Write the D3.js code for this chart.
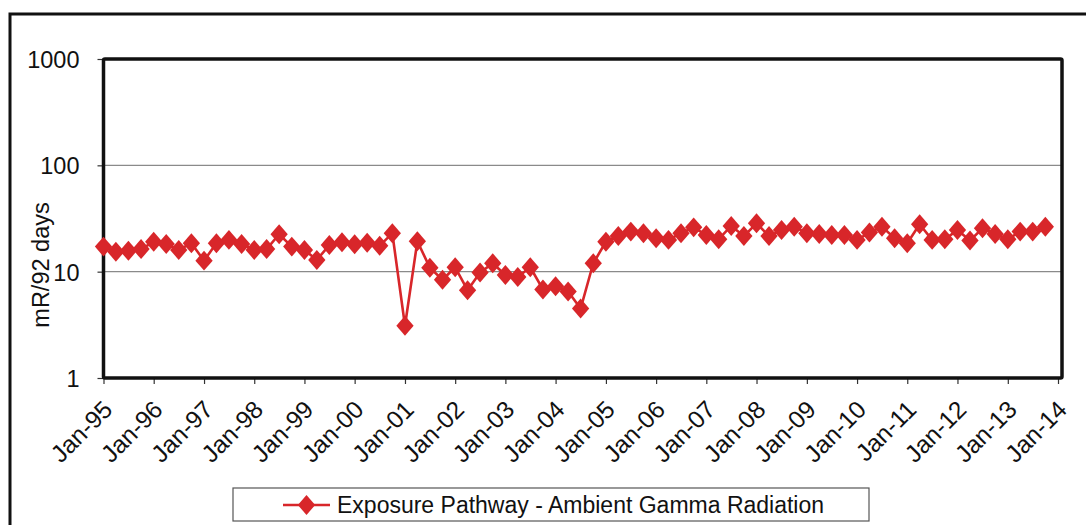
<!DOCTYPE html>
<html>
<head>
<meta charset="utf-8">
<script src="https://cdn.jsdelivr.net/npm/d3@7/dist/d3.min.js"></script>
<style>
  html, body { margin: 0; padding: 0; background: #fff; }
  svg { display: block; font-family: "Liberation Sans", Arial, sans-serif; }
</style>
</head>
<body>
<svg id="chart" width="1086" height="525"></svg>
<script>
// ---- data ----
const dates = [
  "1995-01","1995-04","1995-07","1995-10","1996-01","1996-04","1996-07","1996-10",
  "1997-01","1997-04","1997-07","1997-10","1998-01","1998-04","1998-07","1998-10",
  "1999-01","1999-04","1999-07","1999-10","2000-01","2000-04","2000-07","2000-10",
  "2001-01","2001-04","2001-07","2001-10","2002-01","2002-04","2002-07","2002-10",
  "2003-01","2003-04","2003-07","2003-10","2004-01","2004-04","2004-07","2004-10",
  "2005-01","2005-04","2005-07","2005-10","2006-01","2006-04","2006-07","2006-10",
  "2007-01","2007-04","2007-07","2007-10","2008-01","2008-04","2008-07","2008-10",
  "2009-01","2009-04","2009-07","2009-10","2010-01","2010-04","2010-07","2010-10",
  "2011-01","2011-04","2011-07","2011-10","2012-01","2012-04","2012-07","2012-10",
  "2013-01","2013-04","2013-07","2013-10"
];
const gammaValues = [
  17.2, 15.4, 15.7, 16.3, 19.1, 18.2, 16.0, 18.5,
  12.7, 18.5, 19.9, 18.2, 16.0, 16.3, 22.5, 17.2,
  16.0, 12.9, 17.8, 18.9, 18.1, 18.7, 17.5, 23.0,
  3.1, 19.3, 10.9, 8.4, 11.0, 6.7, 9.8, 12.0,
  9.3, 8.9, 11.0, 6.8, 7.3, 6.5, 4.5, 12.0,
  19.1, 21.6, 23.8, 23.0, 20.6, 19.9, 23.0, 26.1,
  22.1, 20.2, 26.9, 21.6, 28.5, 21.6, 24.6, 26.5,
  23.0, 22.6, 22.1, 22.1, 19.9, 23.3, 26.5, 20.6,
  18.5, 27.9, 19.9, 20.2, 24.6, 19.6, 25.6, 22.6,
  20.2, 23.8, 23.8, 26.5
];
const yTicks = [1, 10, 100, 1000];
const xTickLabels = ["Jan-95","Jan-96","Jan-97","Jan-98","Jan-99","Jan-00","Jan-01","Jan-02","Jan-03","Jan-04",
  "Jan-05","Jan-06","Jan-07","Jan-08","Jan-09","Jan-10","Jan-11","Jan-12","Jan-13","Jan-14"];
const seriesName = "Exposure Pathway - Ambient Gamma Radiation";
const yTitle = "mR/92 days";

// ---- layout ----
const svg = d3.select("#chart");
const plot = { left: 103.5, right: 1062, top: 59, bottom: 378 };
const red = "#d8262a";
const FONT = "'Liberation Sans', Arial, sans-serif";
const parse = d3.timeParse("%Y-%m");

const x = d3.scaleTime()
  .domain([parse("1995-01"), parse("2014-01")])
  .range([plot.left, 1058]);
const y = d3.scaleLog().domain([1, 1000]).range([plot.bottom, plot.top]);

// outer frame
svg.append("rect")
  .attr("x", 10).attr("y", 14).attr("width", 1200).attr("height", 700)
  .attr("fill", "none").attr("stroke", "#111").attr("stroke-width", 3);

// gridlines
svg.append("g").selectAll("line")
  .data(yTicks.filter(t => t > 1 && t < 1000))
  .join("line")
  .attr("x1", plot.left).attr("x2", plot.right)
  .attr("y1", d => y(d)).attr("y2", d => y(d))
  .attr("stroke", "#8a8a8a").attr("stroke-width", 1.2);

// y axis
const yAxis = d3.axisLeft(y).tickValues(yTicks).tickFormat(d3.format("d")).tickSize(6).tickPadding(18);
const gy = svg.append("g").attr("transform", `translate(${plot.left},0)`).call(yAxis);
gy.select(".domain").remove();
gy.selectAll(".tick line").attr("stroke", "#333").attr("stroke-width", 1.2);
gy.selectAll(".tick text").attr("font-size", 23.5).attr("fill", "#111")
  .attr("font-family", FONT).attr("dy", "0.36em");

// x axis
const xAxis = d3.axisBottom(x)
  .tickValues(xTickLabels.map((_, i) => d3.timeYear.offset(parse("1995-01"), i)))
  .tickFormat((d, i) => xTickLabels[i]).tickSize(6);
const gx = svg.append("g").attr("transform", `translate(0,${plot.bottom})`).call(xAxis);
gx.select(".domain").remove();
gx.selectAll(".tick line").attr("stroke", "#333").attr("stroke-width", 1.2);
gx.selectAll(".tick text")
  .attr("font-size", 24.5).attr("fill", "#111")
  .attr("font-family", FONT)
  .attr("text-anchor", "end")
  .attr("dy", null)
  .attr("y", 0)
  .attr("transform", "translate(10,33) rotate(-45)");

// plot border
svg.append("rect")
  .attr("x", plot.left).attr("y", plot.top)
  .attr("width", plot.right - plot.left).attr("height", plot.bottom - plot.top)
  .attr("fill", "none").attr("stroke", "#111").attr("stroke-width", 3.5)
  .attr("rx", 1.5);

// y title
svg.append("text")
  .attr("transform", `translate(49,265) rotate(-90)`)
  .attr("text-anchor", "middle")
  .attr("font-size", 23.5).attr("fill", "#111")
  .text(yTitle);

// series
const data = dates.map((d, i) => ({ date: parse(d), v: gammaValues[i] }));
const line = d3.line().x(d => x(d.date)).y(d => y(d.v));
svg.append("path").datum(data)
  .attr("d", line).attr("fill", "none")
  .attr("stroke", red).attr("stroke-width", 2.6).attr("stroke-linejoin", "round");

const diamond = d3.symbol().type(d3.symbolDiamond).size(115);
svg.append("g").selectAll("path")
  .data(data).join("path")
  .attr("transform", d => `translate(${x(d.date)},${y(d.v)}) scale(1.5,1)`)
  .attr("d", diamond)
  .attr("fill", red);

// legend
const lg = svg.append("g");
lg.append("rect").attr("x", 233).attr("y", 488).attr("width", 636).attr("height", 33)
  .attr("fill", "#fff").attr("stroke", "#555").attr("stroke-width", 1.2);
lg.append("line").attr("x1", 283).attr("x2", 330).attr("y1", 505).attr("y2", 505)
  .attr("stroke", red).attr("stroke-width", 2.6);
lg.append("path").attr("d", diamond).attr("transform", "translate(306.5,505) scale(1.5,1)").attr("fill", red);
lg.append("text").attr("x", 337).attr("y", 513).attr("font-size", 23).attr("fill", "#111")
  .attr("font-family", FONT)
  .text(seriesName);
</script>
</body>
</html>
